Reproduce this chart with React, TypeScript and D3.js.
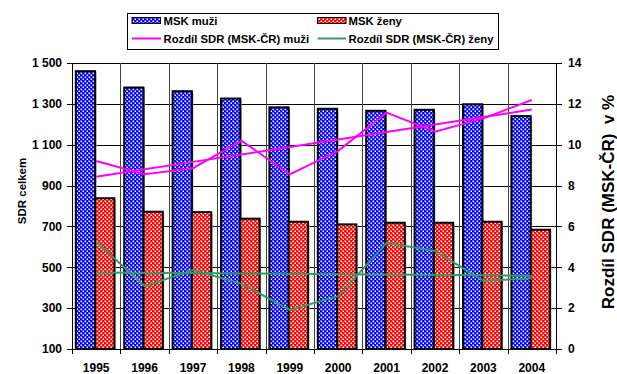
import React from 'react';
import * as d3 from 'd3';

const years = ['1995', '1996', '1997', '1998', '1999', '2000', '2001', '2002', '2003', '2004'];
const menSDR = [1460, 1380, 1362, 1326, 1283, 1276, 1266, 1271, 1298, 1240];
const womenSDR = [838, 772, 770, 738, 723, 710, 718, 718, 723, 684];
const menDiff = [9.2, 8.55, 8.85, 10.2, 8.55, 9.7, 11.57, 10.64, 11.29, 12.19];
const womenDiff = [5.25, 3.08, 3.87, 3.2, 1.91, 2.59, 5.2, 4.8, 3.34, 3.46];
const leftTicks = [100, 300, 500, 700, 900, 1100, 1300, 1500];
const rightTicks = [0, 2, 4, 6, 8, 10, 12, 14];
const seriesNames = ['MSK muži', 'MSK ženy', 'Rozdíl SDR (MSK-ČR) muži', 'Rozdíl SDR (MSK-ČR) ženy'];

const W = 617, H = 374;
const M = { left: 72, right: 556, top: 63, bottom: 349 };
const FONT = 'Liberation Sans, Arial, sans-serif';
const PINK = '#FF00FF';
const GREEN = '#339966';

function linearFit(vals: number[]) {
  const n = vals.length;
  const mx = d3.mean(d3.range(n)) as number;
  const my = d3.mean(vals) as number;
  let sxy = 0, sxx = 0;
  vals.forEach((v, i) => { sxy += (i - mx) * (v - my); sxx += (i - mx) * (i - mx); });
  const b = sxy / sxx;
  const a = my - b * mx;
  return vals.map((_, i) => a + b * i);
}

const fmt = (v: number) => {
  const s = String(v);
  return s.length > 3 ? s.slice(0, s.length - 3) + ' ' + s.slice(-3) : s;
};

export default function App() {
  const x = d3.scaleBand<string>().domain(years).range([M.left, M.right]).paddingInner(0).paddingOuter(0);
  const bw = x.bandwidth();
  const inner = d3.scaleBand<string>().domain(['m', 'z']).range([3.8, bw - 6]);
  const yL = d3.scaleLinear().domain([100, 1500]).range([M.bottom, M.top]);
  const yR = d3.scaleLinear().domain([0, 14]).range([M.bottom, M.top]);
  const cx = (i: number) => (x(years[i]) as number) + bw / 2;

  const line = d3.line<number>().x((_, i) => cx(i)).y(d => yR(d));
  const menTrend = linearFit(menDiff);
  const womenTrend = linearFit(womenDiff);

  const boundaries = d3.range(years.length + 1).map(i => M.left + i * bw);

  return (
    <svg width={W} height={H} style={{ position: 'absolute', left: 0, top: 0, background: '#fff' }} fontFamily={FONT}>
      <defs>
        <pattern id="pBlue" width={4} height={4} patternUnits="userSpaceOnUse">
          <rect width={4} height={4} fill="#0000FF" />
          <rect x={0.5} y={0.5} width={1.6} height={1.6} fill="#fff" />
          <rect x={2.5} y={2.5} width={1.6} height={1.6} fill="#fff" />
        </pattern>
        <pattern id="pRed" width={4} height={4} patternUnits="userSpaceOnUse">
          <rect width={4} height={4} fill="#FF0000" />
          <rect x={0.5} y={0.5} width={1.6} height={1.6} fill="#fff" />
          <rect x={2.5} y={2.5} width={1.6} height={1.6} fill="#fff" />
        </pattern>
      </defs>
      <rect width={W} height={H} fill="#fff" />

      {/* gridlines */}
      <g shapeRendering="crispEdges" stroke="#000" strokeWidth={1}>
        {leftTicks.map(t => (
          <line key={'h' + t} x1={M.left} x2={M.right} y1={Math.round(yL(t)) + 0.5} y2={Math.round(yL(t)) + 0.5} />
        ))}
        {boundaries.slice(1, -1).map((b, i) => (
          <line key={'v' + i} x1={Math.round(b) + 0.5} x2={Math.round(b) + 0.5} y1={M.top} y2={M.bottom} stroke="#444" />
        ))}
      </g>

      {/* bars */}
      {years.map((yr, i) => {
        const x0 = x(yr) as number;
        const xm = x0 + (inner('m') as number);
        const xz = x0 + (inner('z') as number);
        const w = inner.bandwidth();
        return (
          <g key={yr}>
            <rect x={xm + 1.5} y={yL(menSDR[i]) + 1.5} width={w} height={M.bottom - yL(menSDR[i]) - 1.5} fill="#aaa" />
            <rect x={xm} y={yL(menSDR[i])} width={w} height={M.bottom - yL(menSDR[i])} fill="url(#pBlue)" stroke="#000" strokeWidth={2} />
            <rect x={xz + 1.5} y={yL(womenSDR[i]) + 1.5} width={w} height={M.bottom - yL(womenSDR[i]) - 1.5} fill="#aaa" />
            <rect x={xz} y={yL(womenSDR[i])} width={w} height={M.bottom - yL(womenSDR[i])} fill="url(#pRed)" stroke="#000" strokeWidth={2} />
          </g>
        );
      })}

      {/* axes */}
      <g shapeRendering="crispEdges" stroke="#000" strokeWidth={1}>
        <line x1={M.left + 0.5} x2={M.left + 0.5} y1={M.top} y2={M.bottom + 0.5} />
        <line x1={M.right + 0.5} x2={M.right + 0.5} y1={M.top} y2={M.bottom + 0.5} />
        <line x1={M.left} x2={M.right + 1} y1={M.bottom + 0.5} y2={M.bottom + 0.5} />
        {leftTicks.map(t => (
          <line key={'lt' + t} x1={M.left - 5} x2={M.left} y1={Math.round(yL(t)) + 0.5} y2={Math.round(yL(t)) + 0.5} />
        ))}
        {rightTicks.map(t => (
          <line key={'rt' + t} x1={M.right} x2={M.right + 6} y1={Math.round(yR(t)) + 0.5} y2={Math.round(yR(t)) + 0.5} />
        ))}
        {boundaries.map((b, i) => (
          <line key={'bt' + i} x1={Math.round(b) + 0.5} x2={Math.round(b) + 0.5} y1={M.bottom} y2={M.bottom + 5} />
        ))}
      </g>

      {/* lines */}
      <path d={line(menTrend) as string} fill="none" stroke={PINK} strokeWidth={2} />
      <path d={line(menDiff) as string} fill="none" stroke={PINK} strokeWidth={2} />
      <path d={line(womenTrend) as string} fill="none" stroke={GREEN} strokeWidth={2} />
      <path d={line(womenDiff) as string} fill="none" stroke={GREEN} strokeWidth={2} />

      {/* tick labels */}
      <g fontSize={12} fontWeight="bold" fill="#000">
        {leftTicks.map(t => (
          <text key={'ll' + t} x={62} y={yL(t)} dy="0.36em" textAnchor="end">{fmt(t)}</text>
        ))}
        {rightTicks.map(t => (
          <text key={'rl' + t} x={568} y={yR(t)} dy="0.36em" textAnchor="start">{t}</text>
        ))}
        {years.map((yr, i) => (
          <text key={'xl' + yr} x={cx(i)} y={372} textAnchor="middle">{yr}</text>
        ))}
      </g>

      {/* axis titles */}
      <text transform="translate(25.5,191) rotate(-90)" textAnchor="middle" fontSize={11.5} fontWeight="bold">SDR celkem</text>
      <text transform="translate(614,202) rotate(-90)" textAnchor="middle" fontSize={17} fontWeight="bold" style={{ whiteSpace: 'pre' }}>{'Rozdíl SDR (MSK-ČR)  v %'}</text>

      {/* legend */}
      <g fontSize={11.3} fontWeight="bold">
        <rect x={127.5} y={13.5} width={371} height={36} fill="#fff" stroke="#000" strokeWidth={1} shapeRendering="crispEdges" />
        <rect x={132} y={17.5} width={28.5} height={6} fill="url(#pBlue)" stroke="#000" strokeWidth={1} />
        <text x={163.5} y={24.5}>{seriesNames[0]}</text>
        <rect x={317.5} y={17.5} width={28.5} height={6} fill="url(#pRed)" stroke="#000" strokeWidth={1} />
        <text x={348.5} y={24.5}>{seriesNames[1]}</text>
        <line x1={132} x2={161} y1={38.5} y2={38.5} stroke={PINK} strokeWidth={2} />
        <text x={163.5} y={42.5}>{seriesNames[2]}</text>
        <line x1={317.5} x2={346} y1={38.5} y2={38.5} stroke={GREEN} strokeWidth={2} />
        <text x={348.5} y={42.5}>{seriesNames[3]}</text>
      </g>
    </svg>
  );
}
